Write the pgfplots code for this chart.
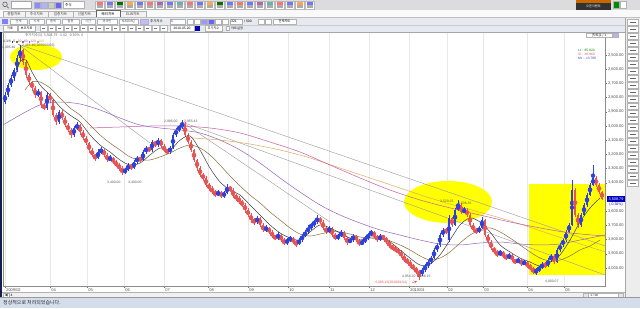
\documentclass[border=0pt]{standalone}
\usepackage{pgfplots}
\pgfplotsset{compat=1.18}
\usepackage{pgfplotstable}
\usepackage{fontspec}
\setmainfont{Liberation Sans}
\newfontfamily\kr{Noto Sans CJK KR}
\newcommand\fs[1]{\fontsize{#1}{#1}\selectfont}
\definecolor{winbg}{RGB}{236,236,236}
\definecolor{tbone}{RGB}{220,220,222}
\definecolor{rowbg}{RGB}{230,234,240}
\definecolor{stbar}{RGB}{212,221,234}
\definecolor{yel}{RGB}{255,255,0}
\definecolor{cred}{RGB}{232,84,84}
\definecolor{cblue}{RGB}{45,65,220}
\definecolor{maone}{RGB}{60,60,60}
\definecolor{matwo}{RGB}{135,110,55}
\definecolor{mathree}{RGB}{150,100,185}
\definecolor{mafour}{RGB}{200,90,170}
\definecolor{mafive}{RGB}{222,172,95}
\definecolor{navy}{RGB}{20,30,80}

\pgfplotstableread{
x o h l c
5 2830 2762 2845 2782
8 2782 2695 2795 2711
11 2711 2640 2725 2662
14 2662 2590 2680 2606
17 2606 2500 2620 2521
20 2521 2430 2540 2465
23 2465 2455 2570 2549
26 2549 2535 2660 2641
29 2641 2625 2710 2690
32 2690 2680 2750 2732
35 2732 2720 2800 2782
38 2782 2740 2795 2761
41 2761 2750 2870 2852
44 2852 2840 2890 2873
47 2873 2760 2885 2782
50 2782 2770 2835 2817
53 2817 2810 2940 2923
56 2923 2910 2990 2972
59 2972 2885 2985 2901
62 2901 2890 2960 2944
65 2944 2930 3010 2993
68 2993 2980 3045 3028
71 3028 3015 3085 3063
74 3063 3000 3075 3014
77 3014 2975 3030 2993
80 2993 2985 3060 3042
83 3042 3030 3100 3084
86 3084 3070 3135 3120
89 3120 3110 3190 3169
92 3169 3155 3220 3204
95 3204 3195 3245 3225
98 3225 3165 3235 3183
101 3183 3150 3200 3169
104 3169 3160 3220 3204
107 3204 3190 3255 3239
110 3239 3205 3250 3225
113 3225 3215 3270 3253
116 3253 3240 3290 3275
119 3275 3260 3315 3296
122 3296 3285 3345 3324
125 3324 3295 3335 3310
128 3310 3260 3320 3275
131 3275 3265 3310 3296
134 3296 3240 3305 3253
137 3253 3210 3265 3225
140 3225 3215 3255 3239
143 3239 3170 3250 3183
146 3183 3140 3195 3155
149 3155 3145 3185 3169
152 3169 3100 3180 3113
155 3113 3105 3150 3134
158 3134 3085 3145 3099
161 3099 3090 3155 3141
164 3141 3130 3185 3169
167 3169 3160 3200 3183
170 3183 3140 3195 3155
173 3155 3050 3165 3063
176 3063 3015 3075 3028
179 3028 2990 3040 3007
182 3007 2958 3020 2986
185 2986 2975 3080 3063
188 3063 3050 3130 3113
191 3113 3100 3185 3169
194 3169 3160 3255 3239
197 3239 3230 3315 3296
200 3296 3285 3360 3345
203 3345 3330 3385 3366
206 3366 3355 3430 3415
209 3415 3400 3455 3437
212 3437 3425 3480 3465
215 3465 3450 3500 3486
218 3486 3450 3495 3465
221 3465 3455 3510 3493
224 3493 3460 3505 3472
227 3472 3410 3480 3430
230 3430 3420 3465 3451
233 3451 3440 3505 3493
236 3493 3480 3525 3507
239 3507 3495 3550 3535
242 3535 3520 3570 3556
245 3556 3545 3610 3592
248 3592 3580 3640 3627
251 3627 3615 3680 3662
254 3662 3650 3695 3676
257 3676 3635 3690 3648
260 3648 3640 3710 3697
263 3697 3685 3750 3732
266 3732 3700 3745 3718
269 3718 3710 3760 3746
272 3746 3735 3790 3775
275 3775 3765 3805 3789
278 3789 3750 3800 3768
281 3768 3760 3820 3803
284 3803 3790 3840 3824
287 3824 3790 3835 3803
290 3803 3775 3815 3789
293 3789 3780 3830 3817
296 3817 3805 3850 3831
299 3831 3790 3840 3803
302 3803 3760 3815 3775
305 3775 3735 3785 3746
308 3746 3700 3760 3718
311 3718 3680 3730 3697
314 3697 3660 3710 3676
317 3676 3630 3690 3648
320 3648 3640 3690 3676
323 3676 3665 3735 3718
326 3718 3705 3760 3746
329 3746 3705 3755 3718
332 3718 3710 3785 3768
335 3768 3755 3805 3789
338 3789 3760 3800 3775
341 3775 3735 3785 3746
344 3746 3740 3800 3789
347 3789 3780 3835 3817
350 3817 3790 3825 3803
353 3803 3760 3815 3775
356 3775 3765 3815 3803
359 3803 3795 3845 3831
362 3831 3800 3840 3817
365 3817 3775 3825 3789
368 3789 3755 3800 3768
371 3768 3730 3775 3746
374 3746 3740 3790 3775
377 3775 3765 3815 3803
380 3803 3760 3810 3775
383 3775 3765 3800 3789
386 3789 3780 3830 3817
389 3817 3805 3860 3845
392 3845 3835 3875 3859
395 3859 3845 3890 3873
398 3873 3860 3900 3887
401 3887 3875 3930 3915
404 3915 3905 3960 3944
407 3944 3930 3975 3958
410 3958 3945 4000 3986
413 3986 3975 4015 4000
416 4000 3990 4045 4028
419 4028 4015 4085 4042
422 4042 4000 4055 4014
425 4014 3975 4025 3986
428 3986 3945 4000 3958
431 3958 3915 3970 3930
434 3930 3860 3940 3873
437 3873 3825 3885 3838
440 3838 3755 3850 3768
443 3768 3715 3780 3732
446 3732 3720 3760 3746
449 3803 3630 3815 3648
452 3648 3640 3710 3697
455 3697 3575 3705 3592
458 3592 3521 3600 3556
461 3556 3545 3620 3606
464 3606 3570 3615 3592
467 3592 3580 3640 3627
470 3627 3615 3710 3697
473 3697 3685 3745 3732
476 3732 3720 3760 3746
479 3746 3705 3755 3718
482 3718 3641 3725 3662
485 3662 3655 3780 3768
488 3768 3760 3830 3817
491 3817 3805 3875 3859
494 3859 3850 3900 3887
497 3887 3875 3925 3908
500 3908 3870 3915 3887
503 3887 3880 3930 3915
506 3915 3905 3945 3930
509 3930 3895 3940 3908
512 3908 3900 3955 3944
515 3944 3935 3975 3958
518 3958 3930 3965 3944
521 3944 3935 3985 3972
524 3972 3945 3980 3958
527 3958 3950 4000 3986
530 3986 3975 4015 4000
533 4000 3990 4045 4028
536 4028 4000 4049 4014
539 4014 3985 4025 4000
542 4000 3960 4010 3972
545 3972 3960 4000 3986
548 3986 3930 3995 3944
551 3944 3900 3955 3915
554 3915 3905 3970 3958
557 3958 3860 3965 3873
560 3873 3825 3885 3838
563 3838 3790 3850 3803
566 3803 3735 3815 3746
569 3746 3680 3755 3697
572 3697 3380 3705 3451
575 3451 3440 3640 3627
578 3627 3615 3715 3697
581 3697 3610 3710 3627
584 3627 3540 3635 3556
587 3556 3470 3570 3486
590 3486 3400 3495 3415
593 3415 3275 3425 3366
596 3366 3355 3430 3415
599 3415 3400 3480 3465
602 3465 3455 3520 3509
}\candles

\begin{document}
\begin{tikzpicture}[x=1bp,y=-1bp]
\useasboundingbox (0,0) rectangle (640,308);
\fill[winbg] (0,0) rectangle (640,308);
% ---- row 1 toolbar
\fill[tbone] (0,0) rectangle (640,10);
\draw[black!70, line width=0.5bp] (5,4.3) circle (2.3) (6.7,6) -- (8.6,8.2);
\draw[gray!70, fill=white] (11,1.5) rectangle (31,8.5);
\foreach \xx/\cc in {34/blue!45, 41/blue!30, 48/gray!40, 55/blue!60}{\draw[gray!60, fill=\cc] (\xx,2) rectangle ++(6,6);}
\draw[gray!60, fill=white] (63,1.5) rectangle (84,8.5);
\node[font=\kr\fs{3.6}, anchor=west, inner sep=0] at (65,5) {주식};
\foreach \i/\cc in {0/red!55,1/blue!55,2/green!45!black,3/orange!70,4/blue!55,5/red!55,6/violet!60,7/blue!55,8/teal!60,9/red!55,10/blue!55,11/orange!70,12/green!45!black,13/blue!55,14/red!55,15/blue!55,16/violet!60,17/teal!60,18/red!55,19/blue!55,20/orange!70,21/blue!55}{
  \draw[gray!55, fill=white] (95+10*\i,1) rectangle ++(9,8);
  \fill[\cc] (96.5+10*\i,2.3) rectangle ++(6,2.2);
  \fill[gray!65] (96.5+10*\i,5.4) rectangle ++(6,2.2);
}
\fill[black!80] (576,0) rectangle (611,10);
\fill[orange!80!black] (576,0) rectangle (611,3);
\node[font=\kr\fs{3.2}, text=white, inner sep=0] at (593.5,6.8) {오픈이벤트};
\draw[gray!60, fill=green!55!black] (613,1.5) rectangle ++(6,7);
\draw[gray!60, fill=white] (620,1.5) rectangle ++(6,7);
\draw[black!30] (0,10) -- (640,10);
% ---- row 2 tabs
\fill[white!95!gray] (0,10) rectangle (640,17.5);
\foreach \a/\b/\t in {3/25/종합차트,25/48/주식차트,48/73/업종차트,73/96/선물차트,120/146/ELW차트}{
  \draw[gray!60, fill=gray!10] (\a,11) rectangle (\b,17.5);
  \node[font=\kr\fs{3.6}, inner sep=0, text=black!75] at ({(\a+\b)/2},14.3) {\t};
}
\draw[black!60, fill=white, line width=0.5bp] (96,10.6) rectangle (120,17.5);
\node[font=\kr\fs{3.6}, inner sep=0] at (108,14.3) {해외차트};
% ---- rows 3,4
\fill[rowbg] (0,17.5) rectangle (625,32);
\draw[black!25] (0,17.5) -- (640,17.5);
\fill[blue!50] (2,19) rectangle (8,24);
\foreach \a/\b/\t in {10/27/전체,29/44/시세,46/60/종목,62/79/업종,81/95/시간,97/117/외국인,119/138/NASDAQ}{
  \draw[gray!60, fill=white] (\a,18.8) rectangle (\b,24.2);
  \node[font=\kr\fs{3.2}, inner sep=0, text=black!70] at ({(\a+\b)/2},21.5) {\t};
}
\draw[gray!60, fill=blue!25] (140,18.8) rectangle (148,24.2);
\node[font=\kr\fs{3.4}, anchor=west, inner sep=0] at (150,21.5) {주가지수};
\draw[gray!60, fill=white] (170,18.8) rectangle (185,24.2);
\node[font=\fs{3.4}, anchor=west, inner sep=0] at (171,21.5) {1};
\foreach \a/\cc in {187/white,194/white,201/blue!40,208/blue!60,215/white,222/white}{\draw[gray!60, fill=\cc] (\a,18.8) rectangle ++(6,5.4);}
\draw[gray!60, fill=white] (230,18.8) rectangle (242,24.2);
\node[font=\fs{3.4}, anchor=west, inner sep=0] at (231,21.5) {321};
\node[font=\fs{3.4}, anchor=west, inner sep=0] at (244,21.5) {/ 500};
\foreach \a in {258,265}{\draw[gray!60, fill=white] (\a,18.8) rectangle ++(6,5.4);}
\draw[gray!60, fill=white] (273,18.8) rectangle (296,24.2);
\node[font=\kr\fs{3.2}, inner sep=0] at (284.5,21.5) {전체차트};
\draw[black!20] (0,24.7) -- (625,24.7);
\foreach \a/\b/\t in {3/17/지표,18/35/보조지표}{
  \draw[gray!60, fill=white] (\a,25.5) rectangle (\b,31);
  \node[font=\kr\fs{3.2}, inner sep=0] at ({(\a+\b)/2},28.3) {\t};
}
\foreach \i in {0,...,15}{\draw[gray!55, fill=white] (40+8*\i,25.5) rectangle ++(7,5.5); \fill[black!55] (42+8*\i,27.5) rectangle ++(3,1.5);}
\draw[gray!60, fill=white] (170,25.5) rectangle (194,31);
\node[font=\fs{3.3}, inner sep=0] at (182,28.3) {2010-05-20};
\fill[blue!70!black] (195,25.5) rectangle (200,31);
\draw[gray!60, fill=white] (205,25.5) rectangle (222,31);
\node[font=\kr\fs{3.2}, inner sep=0] at (213.5,28.3) {주가지수};
\draw[gray!60, fill=white] (226,26.5) rectangle ++(3.5,3.5);
\node[font=\kr\fs{3.2}, anchor=west, inner sep=0] at (231,28.3) {챠트설정};
% ---- chart panel
\fill[white] (2,32) rectangle (625,292);
\fill[navy] (0,32) rectangle (2,297);
\fill[gray!14] (625,17.5) rectangle (640,297);
\draw[black!35] (625.5,17.5) -- (625.5,297);
\foreach \i in {0,...,23}{\draw[gray!60, fill=white] (627.5,19+7*\i) rectangle ++(11,6); \draw[black!60, line width=0.4bp] (630,22+7*\i) -- (636,22+7*\i);}
\begin{axis}[
 at={(3bp,-286bp)}, anchor=south west, scale only axis,
 width=602bp, height=254bp,
 xmin=3, xmax=605, ymin=2338, ymax=4127, y dir=reverse,
 axis line style={draw=black!45, line width=0.4bp},
 xtick={5,50,87,124,164,208,248,288,329,369,409,447,483,527,564},
 xticklabels={2009/02,04,05,06,07,08,09,10,11,12,2010/01,02,03,04,05},
 xtick pos=left, ytick pos=right, yticklabel pos=right,
 tick align=outside, major tick length=2bp,
 tick style={draw=black!55, line width=0.4bp},
 xticklabel style={anchor=north west, font=\fs{4}, text=black!70, inner sep=0.6bp, xshift=0.5bp},
 ytick={2500,2600,2700,2800,2900,3000,3100,3200,3300,3400,3600,3700,3800,3900,4000},
 yticklabel style={font=\fs{4}, text=black!70, inner sep=0.8bp},
 /pgf/number format/assume math mode=true,
 yticklabel={\pgfmathprintnumber[fixed,fixed zerofill,precision=2,1000 sep={,}]{\tick}},
 xmajorgrids, grid style={draw=black!9, line width=0.4bp},
]
\fill[yel] (axis cs:36,2514) ellipse [x radius=26bp, y radius=13bp];
\fill[yel] (axis cs:448,3535) ellipse [x radius=44bp, y radius=21bp];
\fill[yel] (axis cs:529,3408) rectangle (axis cs:605,4049);
% trend lines
\addplot[black!40, line width=0.4bp] coordinates {(18,2423) (605,3845)};
\addplot[black!40, line width=0.4bp] coordinates {(182,2972) (605,4049)};
\addplot[black!40, line width=0.4bp] coordinates {(182,2972) (330,3676)};
\addplot[black!40, line width=0.4bp] coordinates {(18,2423) (150,3120)};
% candles: wicks and bodies
\addplot[cred, only marks, mark=none, forget plot,
  restrict expr to domain={\thisrow{c}-\thisrow{o}}{0:10000},
  error bars/.cd, y dir=both, y explicit, error mark=none,
  error bar style={cred, line width=0.4bp}]
  table[x=x, y expr={(\thisrow{h}+\thisrow{l})/2}, y error expr={(\thisrow{l}-\thisrow{h})/2}] {\candles};
\addplot[cblue, only marks, mark=none, forget plot,
  restrict expr to domain={\thisrow{c}-\thisrow{o}}{-10000:-0.5},
  error bars/.cd, y dir=both, y explicit, error mark=none,
  error bar style={cblue, line width=0.4bp}]
  table[x=x, y expr={(\thisrow{h}+\thisrow{l})/2}, y error expr={(\thisrow{l}-\thisrow{h})/2}] {\candles};
\addplot[cred, only marks, mark=none, forget plot,
  restrict expr to domain={\thisrow{c}-\thisrow{o}}{0:10000},
  error bars/.cd, y dir=both, y explicit, error mark=none,
  error bar style={cred, line width=1.25bp}]
  table[x=x, y expr={(\thisrow{o}+\thisrow{c})/2}, y error expr={abs(\thisrow{c}-\thisrow{o})/2+2}] {\candles};
\addplot[cblue, only marks, mark=none, forget plot,
  restrict expr to domain={\thisrow{c}-\thisrow{o}}{-10000:-0.5},
  error bars/.cd, y dir=both, y explicit, error mark=none,
  error bar style={cblue, line width=1.25bp}]
  table[x=x, y expr={(\thisrow{o}+\thisrow{c})/2}, y error expr={abs(\thisrow{c}-\thisrow{o})/2+2}] {\candles};
% moving averages
\addplot[mafive, line width=0.5bp, smooth] coordinates {(192,3084) (220,3099) (250,3127) (280,3169) (310,3225) (340,3296) (370,3366) (400,3437) (430,3507) (460,3570) (490,3627) (520,3690) (550,3761) (580,3830) (605,3887)};
\addplot[mafour, line width=0.5bp, smooth] coordinates {(90,3014) (120,3007) (150,3000) (180,3000) (210,3014) (240,3049) (270,3113) (300,3183) (330,3275) (360,3366) (390,3451) (420,3521) (450,3577) (480,3627) (510,3676) (540,3718) (570,3753) (605,3775)};
\addplot[mathree, line width=0.5bp, smooth] coordinates {(3,2993) (20,2923) (40,2852) (60,2831) (80,2845) (100,2887) (120,2944) (140,2993) (160,3014) (180,3028) (200,3049) (220,3099) (240,3169) (260,3261) (280,3366) (300,3465) (320,3556) (340,3627) (360,3683) (380,3732) (400,3768) (420,3803) (440,3831) (460,3838) (480,3824) (500,3817) (520,3831) (540,3838) (560,3831) (580,3803) (605,3768)};
\addplot[matwo, line width=0.5bp, smooth] coordinates {(25,2746) (32,2690) (40,2690) (50,2732) (60,2803) (70,2873) (80,2923) (90,2993) (100,3063) (110,3120) (120,3169) (130,3218) (140,3239) (150,3239) (160,3218) (170,3190) (180,3155) (190,3134) (200,3155) (210,3204) (220,3275) (230,3352) (240,3422) (250,3486) (260,3542) (270,3606) (280,3662) (290,3718) (300,3761) (310,3775) (320,3761) (330,3746) (340,3746) (350,3761) (360,3782) (370,3789) (380,3796) (390,3810) (400,3838) (410,3873) (420,3915) (430,3944) (440,3930) (450,3887) (460,3824) (470,3768) (480,3732) (490,3718) (500,3746) (510,3789) (520,3838) (530,3887) (540,3930) (550,3951) (560,3944) (570,3915) (580,3873) (590,3845) (600,3803)};
\addplot[maone, line width=0.5bp, smooth] coordinates {(14,2676) (20,2549) (26,2535) (32,2620) (40,2711) (50,2782) (60,2866) (70,2923) (80,2972) (90,3063) (100,3134) (110,3183) (120,3239) (130,3275) (140,3261) (150,3204) (160,3155) (170,3169) (180,3100) (190,3070) (200,3169) (210,3296) (220,3394) (230,3451) (240,3486) (250,3556) (260,3627) (270,3697) (280,3753) (290,3789) (300,3803) (310,3746) (320,3697) (330,3718) (340,3753) (350,3789) (360,3803) (370,3782) (380,3789) (390,3817) (400,3873) (410,3930) (420,3979) (430,3972) (440,3908) (450,3803) (460,3697) (470,3648) (480,3676) (490,3746) (500,3838) (510,3887) (520,3930) (530,3958) (540,3986) (550,3958) (560,3908) (570,3803) (580,3676) (590,3577) (600,3507)};
\end{axis}
% ---- header texts
\draw[black!35] (2,32) -- (625,32);
\node[font=\kr\fs{3.5}, anchor=west, inner sep=0, text=black!65] at (25,35.3) {주가지수(1)\ \ 3,508.79\ \ -1.02\ \ -0.30\%\ \ 0};
\draw[gray!60, fill=white] (586,33.2) rectangle (612,37.6);
\node[font=\kr\fs{3.2}, inner sep=0] at (599,35.4) {[차트]1 / 1};
\draw[gray!60, fill=blue!30] (613,33.2) rectangle ++(5,4.4);
\node[font=\fs{3.4}, anchor=west, inner sep=0] at (3,41.5) {\textcolor{black!70}{4.3/8}\ \textcolor{maone}{\rule{1.6bp}{1.6bp}5}\ \textcolor{matwo}{\rule{1.6bp}{1.6bp}20}\ \textcolor{mathree}{\rule{1.6bp}{1.6bp}60}\ \textcolor{mafour}{\rule{1.6bp}{1.6bp}120}\ \textcolor{mafive}{\rule{1.6bp}{1.6bp}100}};
\node[font=\fs{3.4}, anchor=west, inner sep=0, text=black!65] at (2,47.5) {1,495.40};
\node[font=\fs{3.4}, anchor=west, inner sep=0, text=black!65] at (22,46) {2,465.46(2009/03/03)};
\node[font=\fs{3.4}, anchor=west, inner sep=0, text=black!65] at (164,122) {2,995.00};
\node[font=\fs{3.4}, anchor=west, inner sep=0, text=black!65] at (184,122) {2,955.43};
\node[font=\fs{3.4}, anchor=west, inner sep=0, text=black!65] at (107,183) {3,400.00};
\node[font=\fs{3.4}, anchor=west, inner sep=0, text=black!65] at (128,183) {3,400.00};
\node[font=\fs{3.4}, anchor=west, inner sep=0, text=black!65] at (440,201.5) {3,529.25};
\node[font=\fs{3.4}, anchor=west, inner sep=0, text=black!65] at (458,203.5) {3,536.35};
\node[font=\fs{3.4}, anchor=west, inner sep=0, text=black!65] at (402,277) {4,054.20\ \ 4,036.15};
\node[font=\fs{3.4}, anchor=west, inner sep=0, text=cred] at (375,283) {4,095.15(2010/01/11)};
\draw[cred, line width=0.4bp, -stealth] (412,283) -- (417,281);
\node[font=\fs{3.4}, anchor=west, inner sep=0, text=black!65] at (545,282) {4,000.07};
\node[font=\fs{3.3}, anchor=west, inner sep=0, text=green!50!black] at (578,50.5) {Lt :\ \ 65.820};
\node[font=\fs{3.3}, anchor=west, inner sep=0, text=cred] at (578,54.2) {Sl :\ \ 45.960};
\node[font=\fs{3.3}, anchor=west, inner sep=0, text=cblue] at (578,57.9) {Mt : -13.788};
% current value box
\fill[blue!75!black] (607,196) rectangle (625,202);
\node[font=\fs{3.8}, text=white, inner sep=0] at (616,199.1) {3,508.79};
\node[font=\fs{3.5}, text=blue!75!black, inner sep=0] at (616,205) {(-0.30\%)};
% ---- bottom rows
\fill[gray!12] (2,292) rectangle (625,297.5);
\draw[black!30] (2,292) -- (625,292);
\draw[gray!60, fill=white] (3,293) rectangle (9,297);
\fill[black!70] (4.5,295) -- (7.5,293.6) -- (7.5,296.4) -- cycle;
\node[font=\fs{3.4}, anchor=west, inner sep=0] at (10.5,295) {4};
\draw[gray!60, fill=white] (583,293) rectangle (623,297);
\draw[gray!60, fill=gray!20] (583,293) rectangle (588,297);
\node[font=\fs{3}, inner sep=0] at (594,295) {1 / 10};
\draw[gray!60, fill=gray!20] (618,293) rectangle (623,297);
\fill[stbar] (0,297.5) rectangle (640,308);
\draw[black!40] (0,297.5) -- (640,297.5);
\node[font=\kr\fs{5}, anchor=west, inner sep=0, text=black!85] at (3,302.6) {정상적으로 처리되었습니다.};
\end{tikzpicture}
\end{document}
